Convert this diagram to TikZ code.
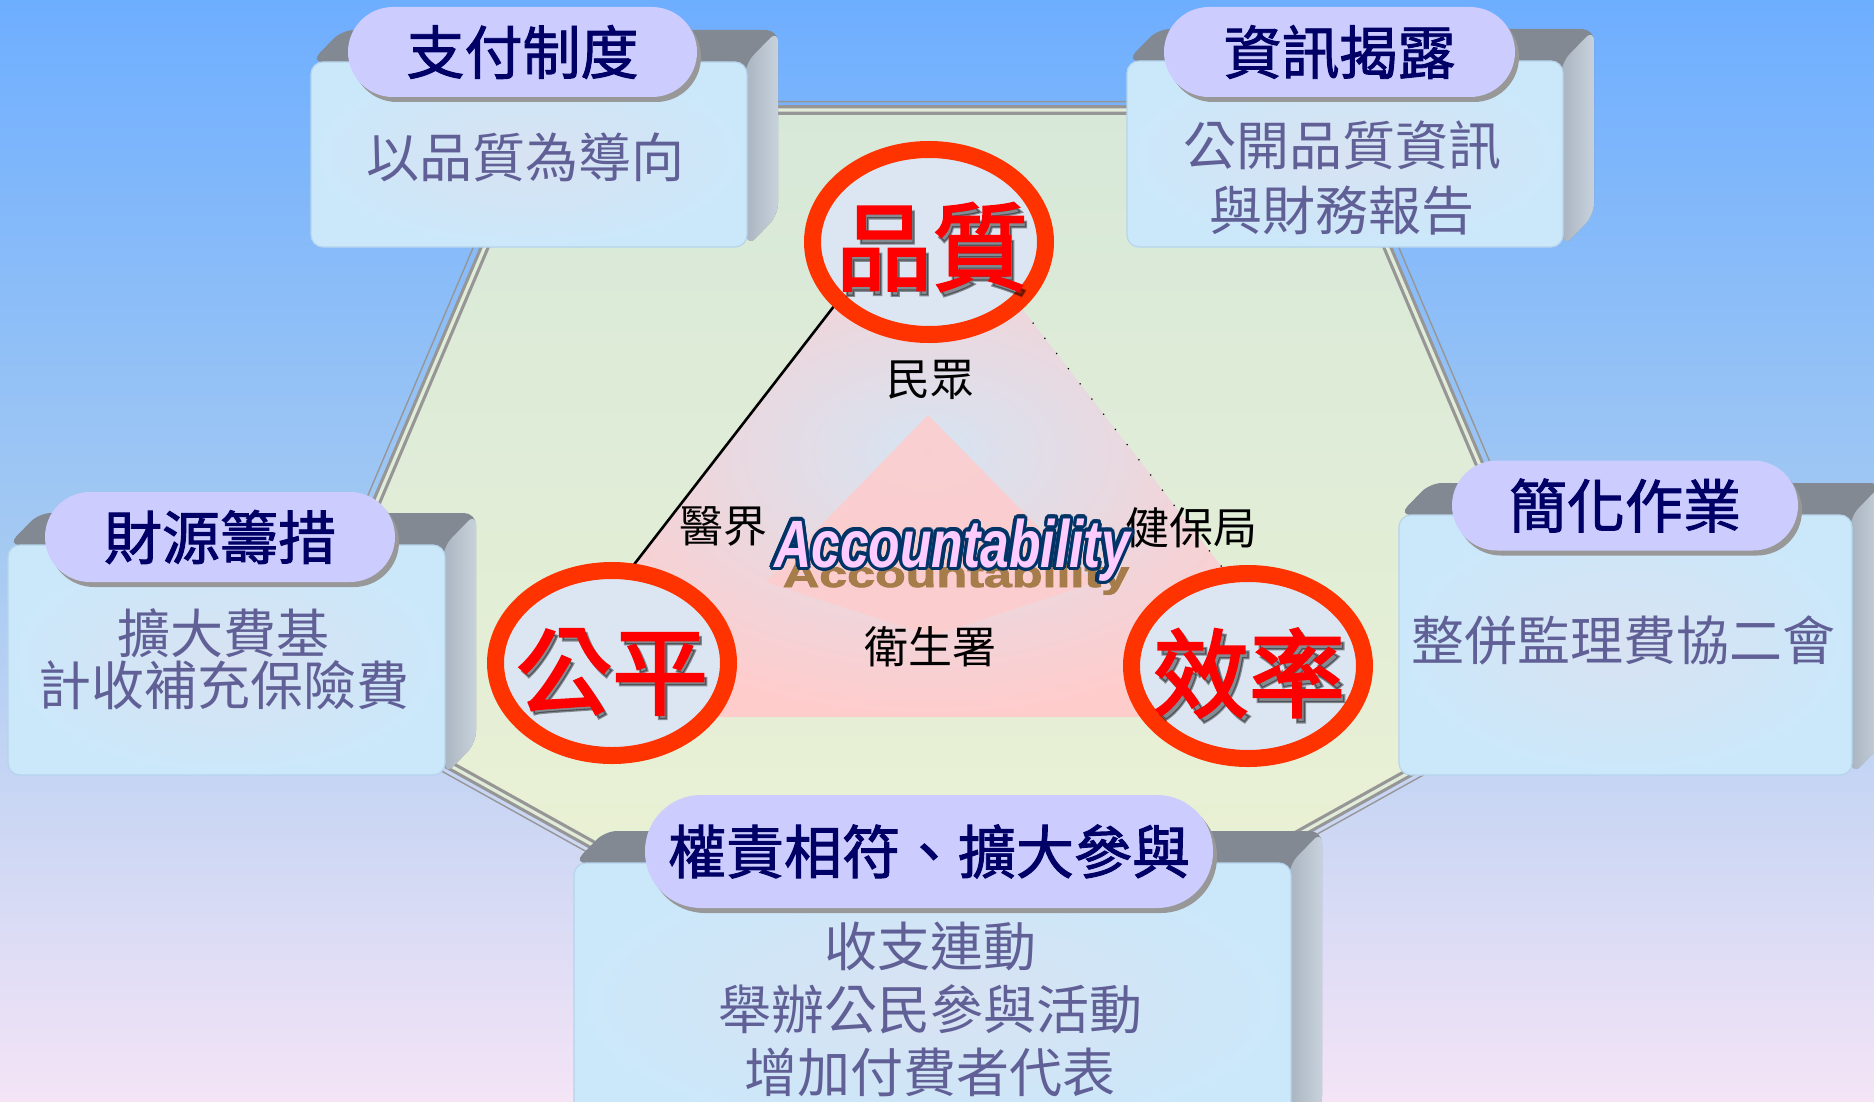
\documentclass[tikz,border=0pt]{standalone}
\usepackage{fontspec}
\usetikzlibrary{shapes.geometric,shadows,fit,calc}
\newfontfamily\cjk{Noto Sans CJK TC}
\newfontfamily\cjkt{Noto Sans CJK TC}[FakeBold=1.6]
\newfontfamily\cjkr{Noto Sans CJK TC}[FakeBold=2.4]
\newfontfamily\accfont{Liberation Sans}
\newfontfamily\accshfont{Liberation Sans Bold}[FakeBold=2]
\definecolor{bgtop}{RGB}{110,174,255}
\definecolor{bgmid}{RGB}{165,202,242}
\definecolor{bgbot}{RGB}{244,228,246}
\definecolor{pentop}{RGB}{215,232,217}
\definecolor{penbot}{RGB}{238,243,211}
\definecolor{penline}{RGB}{150,150,150}
\definecolor{triin}{RGB}{214,228,242}
\definecolor{triout}{RGB}{255,204,204}
\definecolor{kitepink}{RGB}{255,204,204}
\definecolor{ringred}{RGB}{255,51,0}
\definecolor{ellfill}{RGB}{220,230,242}
\definecolor{redtxt}{RGB}{255,0,0}
\definecolor{titlenavy}{RGB}{0,0,102}
\definecolor{bodytxt}{RGB}{96,96,150}
\definecolor{pillfill}{RGB}{204,204,255}
\definecolor{pillshadow}{RGB}{152,152,152}
\definecolor{faceout}{RGB}{203,232,250}
\definecolor{facein}{RGB}{216,226,242}
\definecolor{faceedge}{RGB}{182,212,236}
\definecolor{extrtopc}{RGB}{130,137,146}
\definecolor{extrsidel}{RGB}{168,180,192}
\definecolor{extrsider}{RGB}{200,210,220}
\definecolor{accpink}{RGB}{255,204,255}
\definecolor{accnavy}{RGB}{0,51,102}
\definecolor{accbrown}{RGB}{166,124,74}

\newcommand\threed[4]{%
  \fill[extrtopc, rounded corners=6pt] (#1,#2) -- (#1+31,#2-32) -- (#3+31,#2-32) -- (#3+31,#4-32) -- (#3,#4) -- (#3,#2) -- cycle;
  \shade[left color=extrsidel, right color=extrsider, rounded corners=6pt] (#3-2,#2+2) -- (#3+31,#2-32) -- (#3+31,#4-32) -- (#3,#4) -- cycle;
}
\newcommand\accword{\accfont\bfseries\itshape\fontsize{33.5pt}{36pt}\selectfont\scalebox{0.77}[1]{Accountability}}

\tikzset{
  face/.style={draw=faceedge, line width=0.6pt, rounded corners=6pt, inner color=facein, outer color=faceout, inner sep=0pt, outer sep=0pt},
  pill/.style={fill=pillfill, rounded corners=22.5pt, inner sep=0pt, outer sep=0pt,
    drop shadow={shadow xshift=2pt, shadow yshift=-2.5pt, fill=pillshadow, opacity=1},
    text=titlenavy, font=\cjkt\fontsize{29pt}{32pt}\selectfont, minimum height=45pt},
  body/.style={text=bodytxt, align=center, inner sep=0pt, font=\cjk\fontsize{26.5pt}{32.5pt}\selectfont},
  ring/.style={ellipse, draw=ringred, line width=8.5pt, fill=ellfill, inner sep=0pt, outer sep=0pt, minimum width=116.5pt, minimum height=92.5pt},
  bigtxt/.style={text=redtxt, font=\cjkr\fontsize{48pt}{50pt}\selectfont, inner sep=0pt},
  bigsh/.style={text=black, opacity=0.4, font=\cjkr\fontsize{48pt}{50pt}\selectfont, inner sep=0pt},
  lbl/.style={font=\cjk\fontsize{22pt}{24pt}\selectfont, text=black, inner sep=0pt},
}

\begin{document}
\begin{tikzpicture}[x=0.5pt,y=-0.5pt]
\useasboundingbox (0,0) rectangle (1874,1102);
\clip (0,0) rectangle (1874,1102);
% background
\shade[top color=bgtop, bottom color=bgbot, middle color=bgmid] (0,0) rectangle (1874,1102);

% pentagon
\coordinate (p1) at (543,110);
\coordinate (p2) at (1329,110);
\coordinate (p3) at (1572,682);
\coordinate (p4) at (936,1036);
\coordinate (p5) at (300,682);
\shade[top color=pentop, bottom color=penbot] (p1)--(p2)--(p3)--(p4)--(p5)--cycle;
\draw[penline, line width=0.7pt] (535.1,101.7)--(1336.9,101.7)--(1584.7,685.2)--(936,1046.2)--(287.3,685.2)--cycle;
\draw[penline, line width=1.6pt, double=pentop!60!penbot, double distance=1.6pt] (p1)--(p2)--(p3)--(p4)--(p5)--cycle;

% big triangle
\coordinate (tA) at (927,186);
\coordinate (tB) at (516,717);
\coordinate (tC) at (1338,717);
\shade[inner color=triin, outer color=triout] (tA)--(tB)--(tC)--cycle;
\fill[kitepink, opacity=0.85] (928,415)--(766,582)--(932,636)--(1093,583)--cycle;
\draw[black, line width=1.3pt] (tA)--(tB);
\draw[black, line width=0.6pt, dash pattern=on 0.6pt off 9pt] (tA)--(tC);

% labels
\node[lbl] (l1) at (930,380) {民眾};
\node[lbl] (l2) at (723,526) {醫界};
\node[lbl] (l3) at (1191,528) {健保局};
\node[lbl] (l4) at (930,647) {衛生署};

% Accountability
\node[anchor=base, inner sep=0pt, text=accbrown] (accsh) at (956,587)
  {\accshfont\fontsize{33.5pt}{36pt}\selectfont\scalebox{0.75}[0.55]{Accountability}};
\coordinate (accpos) at (952,567);
\foreach \dx/\dy [count=\k] in {-3.4/0,3.4/0,0/-3.4,0/3.4,-2.4/-2.4,2.4/2.4,-2.4/2.4,2.4/-2.4,-3.1/1.3,3.1/-1.3,-1.3/3.1,1.3/-3.1,-3.1/-1.3,3.1/1.3,1.3/3.1,-1.3/-3.1}
  \node[anchor=base, inner sep=0pt, text=accnavy] (acco\k) at ($(accpos)+(\dx,\dy)$) {\accword};
\node[anchor=base, inner sep=0pt, text=accpink] (acc) at (accpos) {\accword};

% circles
\node[ring] (q) at (929,242) {};
\node[ring] (g) at (612,663) {};
\node[ring] (e) at (1248,666) {};
\node[bigsh] (qs) at (935,252) {品質};
\node[bigtxt] (qt) at (932,247) {品質};
\node[bigsh] (gs) at (615,676) {公平};
\node[bigtxt] (gt) at (612,672) {公平};
\node[bigsh] (es) at (1253,678) {效率};
\node[bigtxt] (et) at (1249,673) {效率};

% box 1
\threed{311}{62}{747}{247}
\node[face, fit={(311,62) (747,247)}] (f1) {};
\node[pill, minimum width=174.5pt] (t1) at (522.5,52) {支付制度};
\node[body] (d1) at (525,157) {以品質為導向};

% box 2
\threed{1127}{61}{1563}{247}
\node[face, fit={(1127,61) (1563,247)}] (f2) {};
\node[pill, minimum width=175.5pt] (t2) at (1339.5,52) {資訊揭露};
\node[body] (d2) at (1342,177.5) {公開品質資訊\\與財務報告};

% box 3
\threed{1399}{515}{1852}{775}
\node[face, fit={(1399,515) (1852,775)}] (f3) {};
\node[pill, minimum width=173pt] (t3) at (1625,505.5) {簡化作業};
\node[body] (d3) at (1623,640) {整併監理費協二會};

% box 4
\threed{8}{545}{445}{775}
\node[face, fit={(8,545) (445,775)}] (f4) {};
\node[pill, minimum width=175pt] (t4) at (220,537) {財源籌措};
\node[body, font=\cjk\fontsize{26.5pt}{26pt}\selectfont] (d4) at (224,659) {擴大費基\\計收補充保險費};

% box 5
\threed{574}{863}{1291}{1140}
\node[face, fit={(574,863) (1291,1140)}] (f5) {};
\node[pill, minimum width=284pt, minimum height=56.5pt, rounded corners=28pt] (t5) at (929,851.5) {權責相符、擴大參與};
\node[body, font=\cjk\fontsize{26.5pt}{31.5pt}\selectfont] (d5) at (930,1009) {收支連動\\舉辦公民參與活動\\增加付費者代表};
\end{tikzpicture}
\end{document}
